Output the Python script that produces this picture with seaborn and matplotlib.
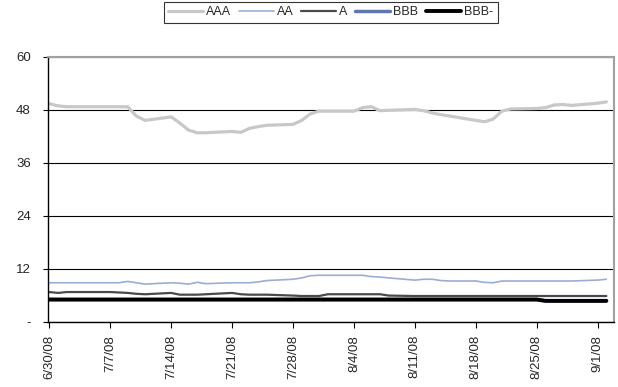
import pandas as pd
import seaborn as sns
import matplotlib.pyplot as plt
import matplotlib.dates as mdates
from matplotlib.ticker import FixedLocator

# trading days shown on the chart
dates = pd.bdate_range('2008-06-30', '2008-09-02')

aaa = [49.4, 48.9, 48.7, 48.7, 48.7,
       48.7, 48.7, 48.7, 46.6, 45.6,
       46.4, 45.0, 43.4, 42.8, 42.8,
       43.1, 42.9, 43.8, 44.2, 44.5,
       44.7, 45.6, 47.1, 47.7, 47.7,
       47.7, 48.5, 48.7, 47.8, 47.9,
       48.1, 47.8, 47.3, 46.9, 46.6,
       45.6, 45.3, 45.9, 47.7, 48.2,
       48.3, 48.5, 49.1, 49.2, 49.0,
       49.5, 49.8]
aa = [8.8, 8.8, 8.8, 8.8, 8.8,
      8.8, 8.8, 9.1, 8.8, 8.5,
      8.8, 8.7, 8.5, 8.9, 8.6,
      8.8, 8.8, 8.8, 9.0, 9.3,
      9.6, 9.9, 10.4, 10.5, 10.5,
      10.5, 10.5, 10.2, 10.1, 9.9,
      9.4, 9.6, 9.6, 9.3, 9.2,
      9.2, 8.9, 8.8, 9.2, 9.2,
      9.2, 9.2, 9.2, 9.2, 9.2,
      9.4, 9.6]
a = [6.7, 6.5, 6.7, 6.7, 6.7,
     6.7, 6.6, 6.5, 6.3, 6.2,
     6.5, 6.1, 6.1, 6.1, 6.2,
     6.5, 6.2, 6.1, 6.1, 6.1,
     5.9, 5.8, 5.8, 5.8, 6.2,
     6.2, 6.2, 6.2, 6.2, 5.9,
     5.8, 5.8, 5.8, 5.8, 5.8,
     5.8, 5.8, 5.8, 5.8, 5.8,
     5.8, 5.8, 5.8, 5.8, 5.8,
     5.8, 5.8]
bbb = [5.0] * 41 + [4.7] * 6
bbb_minus = [5.0] * 41 + [4.7] * 6

series = [('AAA', aaa, '#c8c8c8', 2.3),
          ('AA', aa, '#9aaed4', 1.2),
          ('A', a, '#4a4a4a', 1.6),
          ('BBB', bbb, '#5f77ad', 2.5),
          ('BBB-', bbb_minus, '#000000', 2.8)]

y_ticks = [0, 12, 24, 36, 48, 60]
y_tick_labels = ['-', '12', '24', '36', '48', '60']

sns.set_style('white')
plt.rcParams['font.family'] = ['Liberation Sans', 'DejaVu Sans']

fig, ax = plt.subplots(figsize=(6.18, 3.87), dpi=100)
fig.subplots_adjust(left=0.078, right=0.9935, bottom=0.169, top=0.853)

for name, vals, col, lw in series:
    sns.lineplot(x=dates, y=vals, ax=ax, color=col, linewidth=lw, label=name)

# axis setup
ax.set_xlim(pd.Timestamp('2008-06-29 21:00'), pd.Timestamp('2008-09-02 21:00'))
ax.set_ylim(0, 60)
ax.xaxis.set_major_locator(mdates.WeekdayLocator(byweekday=mdates.MO))
ax.xaxis.set_major_formatter(plt.FuncFormatter(
    lambda v, p: '{d.month}/{d.day}/{d:%y}'.format(d=mdates.num2date(v))))
ax.yaxis.set_major_locator(FixedLocator(y_ticks))
ax.set_yticklabels(y_tick_labels)
plt.xticks(rotation=90, fontsize=9.5)
plt.yticks(fontsize=9.5)
ax.tick_params(axis='x', bottom=True, direction='out', length=4.5, width=0.8, color='black', pad=5)
ax.tick_params(axis='y', left=True, direction='out', length=3.6, width=0.8, color='black', pad=9)
ax.set_xlabel('')
ax.set_ylabel('')

# horizontal gridlines
ax.yaxis.grid(True, color='black', linewidth=0.8)
ax.xaxis.grid(False)
ax.set_axisbelow(True)

for s in ['left', 'bottom']:
    ax.spines[s].set_color('black')
    ax.spines[s].set_linewidth(1.0)
for s in ['top', 'right']:
    ax.spines[s].set_color('#a0a0a0')
    ax.spines[s].set_linewidth(1.5)

ax.get_legend().remove()
handles, labels = ax.get_legend_handles_labels()
leg = fig.legend(handles, labels, loc='upper center', bbox_to_anchor=(0.535, 0.995),
                 ncol=5, fontsize=9, frameon=True, fancybox=False, edgecolor='black',
                 handlelength=2.8, handletextpad=0.25, columnspacing=0.6,
                 borderpad=0.35, borderaxespad=0)
leg.get_frame().set_linewidth(0.8)

plt.savefig('out.png', dpi=100)
